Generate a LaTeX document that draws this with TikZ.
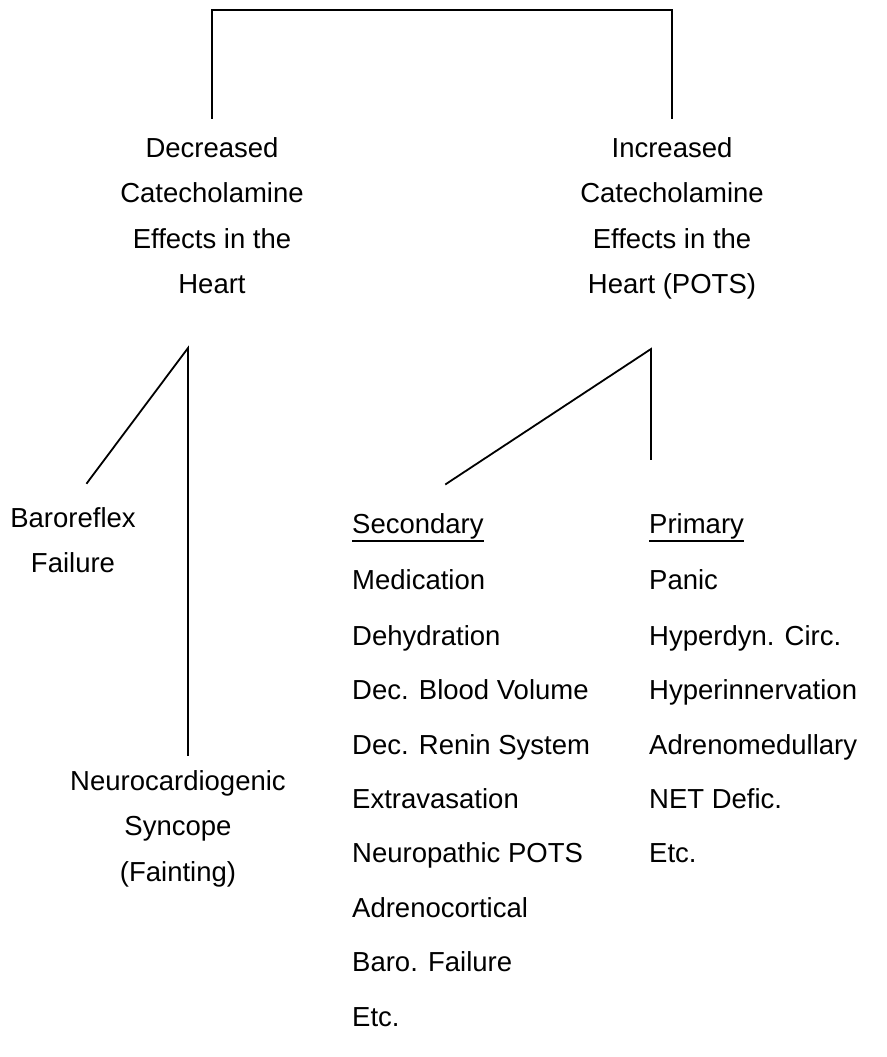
\documentclass[tikz,border=0pt]{standalone}
\usepackage{fontspec}
\setmainfont{Liberation Sans}
\begin{document}
\begin{tikzpicture}[x=1pt,y=-1pt,
  every node/.style={inner sep=0pt,font=\fontsize{27.5}{45.5}\selectfont},
  head/.style={align=center,anchor=north},
  item/.style={anchor=base west},
  link/.style={line width=1.8pt,line cap=rect}]
\useasboundingbox (0,0) rectangle (886,1057);

% upper bracket joining the two branches
\coordinate (topL) at (212,10);
\coordinate (topR) at (672,10);
\coordinate (decUp) at (212,118);
\coordinate (incUp) at (672,118);
\draw[link] (decUp) -- (topL) -- (topR) -- (incUp);

% branch headings
\node[head] (dec) at (212,137) {Decreased\\Catecholamine\\Effects in the\\Heart};
\node[head] (inc) at (672,137) {Increased\\Catecholamine\\Effects in the\\Heart (POTS)};

% decreased-effects fork
\coordinate (decFork) at (188,348);
\coordinate (baroEnd) at (87,483);
\coordinate (neuroEnd) at (188,755);
\draw[link] (baroEnd) -- (decFork) -- (neuroEnd);
\node[head] (baro) at (73,507) {Baroreflex\\Failure};
\node[head] (neuro) at (178,770) {Neurocardiogenic\\Syncope\\(Fainting)};

% increased-effects fork
\coordinate (incFork) at (651,349);
\coordinate (secEnd) at (446,484);
\coordinate (priEnd) at (651,459);
\draw[link] (secEnd) -- (incFork) -- (priEnd);

% secondary causes
\node[item] (sec) at (352,533) {Secondary};
\draw[line width=1.4pt] ([yshift=-8pt]sec.base west) -- ([yshift=-8pt]sec.base east);
\node[item] (s1) at (352,589) {Medication};
\node[item] (s2) at (352,645) {Dehydration};
\node[item] (s3) at (352,699) {Dec. Blood Volume};
\node[item] (s4) at (352,754) {Dec. Renin System};
\node[item] (s5) at (352,808) {Extravasation};
\node[item] (s6) at (352,862) {Neuropathic POTS};
\node[item] (s7) at (352,917) {Adrenocortical};
\node[item] (s8) at (352,971) {Baro. Failure};
\node[item] (s9) at (352,1026) {Etc.};

% primary causes
\node[item] (pri) at (649,533) {Primary};
\draw[line width=1.4pt] ([yshift=-8pt]pri.base west) -- ([yshift=-8pt]pri.base east);
\node[item] (p1) at (649,589) {Panic};
\node[item] (p2) at (649,645) {Hyperdyn. Circ.};
\node[item] (p3) at (649,699) {Hyperinnervation};
\node[item] (p4) at (649,754) {Adrenomedullary};
\node[item] (p5) at (649,808) {NET Defic.};
\node[item] (p6) at (649,862) {Etc.};
\end{tikzpicture}
\end{document}
